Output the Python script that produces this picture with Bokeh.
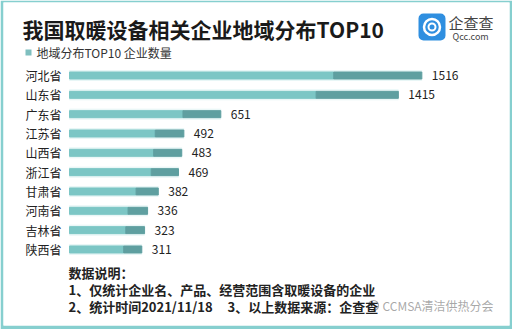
from bokeh.plotting import figure
from bokeh.models import Range1d, Label, BoxAnnotation
from bokeh.core.properties import value
from bokeh.embed import file_html
from bokeh.resources import INLINE

# ---- data ----
provinces = ["河北省", "山东省", "广东省", "江苏省", "山西省",
             "浙江省", "甘肃省", "河南省", "吉林省", "陕西省"]
counts = [1516, 1415, 651, 492, 483, 469, 382, 336, 323, 311]
title_text = "我国取暖设备相关企业地域分布TOP10"
legend_text = "地域分布TOP10 企业数量"
note_head = "数据说明："
note_1 = "1、仅统计企业名、产品、经营范围含取暖设备的企业"
note_2 = "2、统计时间2021/11/18"
note_3 = "3、以上数据来源：企查查"
logo_name = "企查查"
logo_url = "Qcc.com"
watermark = "CCMSA清洁供热分会"

FONT = "Noto Sans CJK SC"

# ---- layout (pixels) ----
W, H = 512, 329
BL, BR, BT, BB = 3, 3, 2, 4
X0 = 69.0      # canvas x of value 0
S = 0.2324     # px per unit
Y0 = 75.0      # canvas y of first row
R = 19.33      # px per row

def dx(X):
    return (X - X0) / S

def dy(Y):
    return (Y - Y0) / R

p = figure(width=W, height=H, output_backend="svg", toolbar_location=None,
           x_range=Range1d(dx(BL), dx(W - BR)),
           y_range=Range1d(dy(H - BB), dy(BT)),
           min_border_left=BL, min_border_right=BR,
           min_border_top=BT, min_border_bottom=BB,
           border_fill_color="#86cfcf", background_fill_color="white")
p.axis.visible = False
p.grid.visible = False
p.outline_line_color = None

idx = list(range(len(provinces)))
split = [c * 0.75 for c in counts]
bar_h = 7 / R

# glow
p.hbar(y=idx, left=0, right=counts, height=10 / R, color="#e8f6f6")
p.hbar(y=idx, left=0, right=split, height=bar_h, color="#7cc6c5")
p.hbar(y=idx, left=split, right=counts, height=bar_h, color="#5f9fa0")

p.text(x=counts, y=idx, text=[str(c) for c in counts], x_offset=10,
       text_baseline="middle", text_align="left",
       text_font=value(FONT), text_font_size="12px", text_color="#222222")
p.text(x=[dx(25)] * len(provinces), y=idx, text=provinces,
       text_baseline="middle", text_align="left",
       text_font=value(FONT), text_font_size="12px", text_color="#222222")

def lab(X, Y, t, size, color="#222222", bold=False, align="left", alpha=1.0):
    p.add_layout(Label(x=dx(X), y=dy(Y), text=t, text_font=FONT,
                       text_font_size=f"{size}px", text_color=color,
                       text_font_style="bold" if bold else "normal",
                       text_align=align, text_baseline="middle",
                       text_alpha=alpha))

# title + legend
lab(22, 28, title_text, 21, color="#1a1a1a", bold=True)
p.add_layout(BoxAnnotation(left=dx(25), right=dx(31), top=dy(49), bottom=dy(55),
                           fill_color="#7fbfbf", fill_alpha=1, line_color=None))
lab(36, 52, legend_text, 12, color="#333333")

# logo
p.add_layout(BoxAnnotation(left=dx(418), right=dx(445), top=dy(13), bottom=dy(40),
                           fill_color="#2f8fe0", fill_alpha=1, line_color=None,
                           border_radius=5, level="underlay"))
p.scatter(x=[dx(431.5)], y=[dy(26.5)], size=16, fill_color=None,
          line_color="white", line_width=2.5)
p.scatter(x=[dx(431.5)], y=[dy(26.5)], size=7, fill_color=None,
          line_color="white", line_width=2)
lab(448, 22, logo_name, 15, color="#444444")
lab(452, 36, logo_url, 9, color="#444444")

# notes
lab(68, 272, note_head, 13, bold=True)
lab(68, 289, note_1, 13, bold=True)
lab(68, 306, note_2, 13, bold=True)
lab(227, 306, note_3, 13, bold=True)

# watermark
p.scatter(x=[dx(373)], y=[dy(305)], size=10, fill_color=None,
          line_color="#aaaaaa", line_width=1.2)
lab(382, 305, watermark, 12, color="#999999", alpha=0.85)

open("out.html", "w").write(file_html(p, INLINE))
